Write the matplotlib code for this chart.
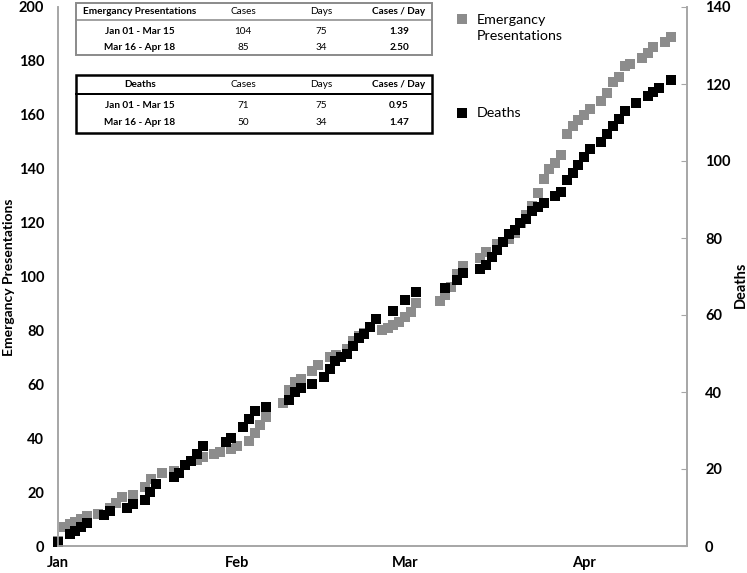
import matplotlib.pyplot as plt
from matplotlib.patches import Rectangle

plt.rcParams['font.family'] = ['Lato', 'DejaVu Sans']

# cumulative counts, day 0 = Jan 01
ep_days = [0, 1, 2, 3, 4, 5, 7, 9, 10, 11, 13, 15, 16, 18, 20, 22, 24, 25, 27, 28,
           30, 31, 33, 34, 35, 36, 39, 40, 41, 42, 44, 45, 47, 48, 50, 51, 52, 53, 56, 57,
           58, 59, 60, 61, 62, 66, 67, 68, 69, 70, 73, 74, 76, 78, 79, 80, 81, 82, 83, 84,
           85, 86, 87, 88, 89, 90, 91, 92, 94, 95, 96, 97, 98, 99, 101, 102, 103, 105, 106]
ep_cum = [2, 7, 8, 9, 10, 11, 12, 14, 16, 18, 19, 22, 25, 27, 28, 30, 32, 33, 34, 35,
          36, 37, 39, 42, 45, 48, 53, 58, 61, 62, 65, 67, 70, 71, 73, 76, 78, 79, 80, 81,
          82, 83, 85, 87, 90, 91, 93, 96, 101, 104, 107, 109, 112, 114, 116, 120, 123, 126, 131, 136,
          140, 142, 145, 153, 156, 158, 160, 162, 165, 168, 172, 174, 178, 179, 181, 183, 185, 187, 189]

death_days = [0, 2, 3, 4, 5, 8, 9, 12, 13, 15, 16, 17, 20, 21, 22, 23, 24, 25, 29, 30,
              32, 33, 34, 36, 40, 41, 42, 44, 46, 47, 48, 49, 50, 51, 52, 53, 54, 55, 58, 60,
              62, 67, 69, 70, 73, 74, 75, 76, 77, 78, 79, 80, 81, 82, 83, 84, 86, 87, 88, 89,
              90, 91, 92, 94, 95, 96, 97, 98, 100, 102, 103, 104, 106]
death_cum = [1, 3, 4, 5, 6, 8, 9, 10, 11, 12, 14, 16, 18, 19, 21, 22, 24, 26, 27, 28,
             31, 33, 35, 36, 38, 40, 41, 42, 44, 46, 48, 49, 50, 52, 54, 55, 57, 59, 61, 64,
             66, 67, 69, 71, 72, 73, 75, 77, 79, 81, 82, 84, 85, 87, 88, 89, 91, 92, 95, 97,
             99, 101, 103, 105, 107, 109, 111, 113, 115, 117, 118, 119, 121]

month_pos = [0, 31, 60, 91]
month_lbl = ['Jan', 'Feb', 'Mar', 'Apr']

col_head = ['Cases', 'Days', 'Cases / Day']
ep_rows = [['Jan 01 - Mar 15', '104', '75', '1.39'],
           ['Mar 16 - Apr 18', '85', '34', '2.50']]
death_rows = [['Jan 01 - Mar 15', '71', '75', '0.95'],
              ['Mar 16 - Apr 18', '50', '34', '1.47']]

W, H = 747, 573
GREY = '#8c8c8c'
AXC = '#a6a6a6'


def fx(x):
    return x / W


def fy(y):
    return 1 - y / H


fig = plt.figure(figsize=(W / 100, H / 100), dpi=100)
ax = fig.add_axes([fx(58), fy(546), (687 - 58) / W, (546 - 7) / H])
ax2 = ax.twinx()

ax.plot(ep_days, ep_cum, 's', color=GREY, ms=7.4, mew=0, clip_on=False)
ax2.plot(death_days, death_cum, 's', color='black', ms=7.4, mew=0, clip_on=False)

ax.set_xlim(0, 108.8)
ax.set_ylim(0, 200)
ax2.set_ylim(0, 140)
ax.set_xticks(month_pos)
ax.set_xticklabels(month_lbl)
ax.set_yticks(range(0, 201, 20))
ax2.set_yticks(range(0, 141, 20))

for a in (ax, ax2):
    a.spines['top'].set_visible(False)
    for s in ('left', 'right', 'bottom'):
        a.spines[s].set_color(AXC)
        a.spines[s].set_linewidth(1.2)
ax.tick_params(axis='x', length=0, pad=7, labelsize=10.5)
ax.tick_params(axis='y', length=0, pad=10, labelsize=10.5)
ax2.tick_params(axis='y', direction='in', length=4, color=AXC, pad=13, labelsize=10.5)
for lbl in ax.get_xticklabels() + ax.get_yticklabels() + ax2.get_yticklabels():
    lbl.set_fontweight('bold')

fig.text(fx(9), fy(277), 'Emergancy Presentations', rotation=90, ha='center', va='center',
         fontsize=10, fontweight='bold')
fig.text(fx(741), fy(285), 'Deaths', rotation=90, ha='center', va='center',
         fontsize=10.5, fontweight='bold')

# legend
fig.add_artist(Rectangle((fx(457), fy(24)), 10 / W, 10 / H, transform=fig.transFigure,
                         color=GREY, lw=0))
fig.text(fx(477), fy(28), 'Emergancy\nPresentations', ha='left', va='center', fontsize=10.3,
         linespacing=1.35)
fig.add_artist(Rectangle((fx(457), fy(118)), 10 / W, 10 / H, transform=fig.transFigure,
                         color='black', lw=0))
fig.text(fx(477), fy(113), 'Deaths', ha='left', va='center', fontsize=10.3)

# the two summary tables
col_x = [140, 243, 321, 399]


def draw_table(top, bottom, head_y, title, rows, row_y, edge, lw):
    fig.add_artist(Rectangle((fx(76), fy(bottom)), (432 - 76) / W, (bottom - top) / H,
                             transform=fig.transFigure, fill=False, ec=edge, lw=lw))
    fig.add_artist(plt.Line2D([fx(76), fx(432)], [fy(head_y), fy(head_y)],
                              transform=fig.transFigure, color=edge, lw=lw * 0.8))
    hy = (top + head_y) / 2
    fig.text(fx(col_x[0]), fy(hy), title, ha='center', va='center', fontsize=7.2,
             fontweight='bold')
    for i, h in enumerate(col_head):
        fig.text(fx(col_x[i + 1]), fy(hy), h, ha='center', va='center', fontsize=7.2,
                 fontweight='bold' if i == 2 else 'normal')
    for r, yy in zip(rows, row_y):
        for i, v in enumerate(r):
            fig.text(fx(col_x[i]), fy(yy), v, ha='center', va='center', fontsize=7.2,
                     fontweight='bold' if i in (0, 3) else 'normal')


draw_table(3, 55, 20, 'Emergancy Presentations', ep_rows, [31, 48], '#8a8a8a', 1.4)
draw_table(75, 133, 94, 'Deaths', death_rows, [106, 123], 'black', 1.8)

fig.savefig('out.png', dpi=100)
